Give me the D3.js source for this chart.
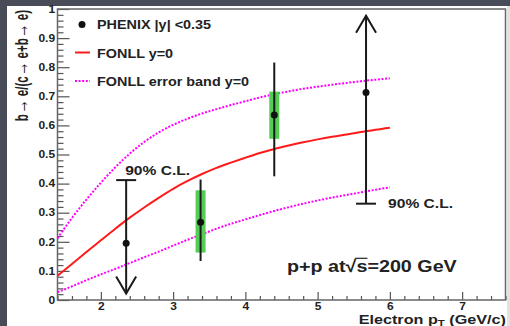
<!DOCTYPE html>
<html>
<head>
<meta charset="utf-8">
<script src="https://cdn.jsdelivr.net/npm/d3@7"></script>
<style>
body { margin: 0; background: #484c58; }
svg { display: block; }
text { font-family: "Liberation Sans", Arial, sans-serif; font-weight: bold; fill: #222; }
</style>
</head>
<body>
<div class="canvas"></div>
<script>
// FONLL prediction (y=0)
const curvePt = [1.4, 1.6, 1.8, 2.0, 2.2, 2.4, 2.6, 2.8, 3.0, 3.2, 3.4, 3.6, 3.8, 4.0, 4.2, 4.4, 4.6, 4.8, 5.0, 5.2, 5.4, 5.6, 5.8, 6.0];
const fonllCentral = [0.083, 0.124, 0.165, 0.205, 0.245, 0.283, 0.318, 0.351, 0.382, 0.409, 0.433, 0.454, 0.472, 0.489, 0.505, 0.519, 0.531, 0.542, 0.552, 0.561, 0.569, 0.577, 0.585, 0.592];
const fonllUpper = [0.212, 0.282, 0.345, 0.403, 0.456, 0.503, 0.543, 0.576, 0.602, 0.623, 0.641, 0.656, 0.670, 0.683, 0.696, 0.707, 0.717, 0.726, 0.733, 0.740, 0.746, 0.752, 0.757, 0.762];
const fonllLower = [0.027, 0.047, 0.068, 0.088, 0.107, 0.127, 0.147, 0.166, 0.187, 0.207, 0.226, 0.245, 0.262, 0.277, 0.292, 0.306, 0.319, 0.331, 0.342, 0.352, 0.361, 0.370, 0.379, 0.387];

// PHENIX data points
const pointPt = [2.35, 3.38, 4.40, 5.67];
const pointVal = [0.195, 0.267, 0.636, 0.713];
const statLow = [null, 0.134, 0.425, null];
const statHigh = [null, 0.414, 0.816, null];
const sysLow = [null, 0.163, 0.554, null];
const sysHigh = [null, 0.377, 0.716, null];

// 90% C.L. limits
const limitPt = [2.35, 5.67];
const limitVal = [0.412, 0.331];
const limitArrowEnd = [0.022, 0.977];

// ticks
const xTicks = [2, 3, 4, 5, 6, 7];
const xTickLabels = ['2', '3', '4', '5', '6', '7'];
const yTicks = [0, 0.1, 0.2, 0.3, 0.4, 0.5, 0.6, 0.7, 0.8, 0.9, 1];
const yTickLabels = ['0', '0.1', '0.2', '0.3', '0.4', '0.5', '0.6', '0.7', '0.8', '0.9', '1'];

const legendLabels = ['PHENIX |y| <0.35', 'FONLL y=0', 'FONLL error band y=0'];

const width = 510, height = 326;
const svg = d3.select('.canvas').append('svg')
	.attr('width', width)
	.attr('height', height);

// page background & white pad
svg.append('rect').attr('width', width).attr('height', height).attr('fill', '#484c58');
svg.append('rect').attr('x', 7).attr('y', 6).attr('width', 503).attr('height', 320).attr('fill', '#fff');
svg.append('rect').attr('x', 507).attr('y', 6).attr('width', 3).attr('height', 320).attr('fill', '#e2e2e2');

const x = d3.scaleLinear().domain([1.4, 7.6]).range([57.5, 505.5]);
const y = d3.scaleLinear().domain([0, 1]).range([300, 9]);

// axes (ROOT style: ticks point inward)
const xMinor = d3.range(1.4, 7.61, 0.2).filter(v => Math.abs(v - Math.round(v)) > 0.01);
const yMinor = d3.range(0, 1.001, 0.02).filter(v => Math.abs(v * 10 - Math.round(v * 10)) > 0.01);

const axisStyle = g => {
	g.select('.domain').remove();
	g.selectAll('line').attr('stroke', '#555').attr('stroke-width', 1.2);
};

svg.append('g')
	.attr('transform', `translate(0, ${y(0)})`)
	.call(d3.axisBottom(x).tickValues(xMinor).tickSize(-4).tickFormat(''))
	.call(axisStyle);
svg.append('g')
	.attr('transform', `translate(0, ${y(0)})`)
	.call(d3.axisBottom(x).tickValues(xTicks).tickSize(-8).tickPadding(3)
		.tickFormat((d, i) => xTickLabels[i]))
	.call(axisStyle)
	.selectAll('text')
	.attr('font-size', 10)
	.attr('fill', '#333')
	.attr('transform', 'scale(1.2,1)');

svg.append('g')
	.attr('transform', `translate(${x(1.4)}, 0)`)
	.call(d3.axisLeft(y).tickValues(yMinor).tickSize(-6).tickFormat(''))
	.call(axisStyle);
svg.append('g')
	.attr('transform', `translate(${x(1.4)}, 0)`)
	.call(d3.axisLeft(y).tickValues(yTicks).tickSize(-12).tickPadding(2)
		.tickFormat((d, i) => yTickLabels[i]))
	.call(axisStyle)
	.selectAll('text')
	.attr('font-size', 10)
	.attr('fill', '#333')
	.attr('transform', 'scale(1.2,1)');

// frame
svg.append('rect')
	.attr('x', x(1.4)).attr('y', y(1))
	.attr('width', x(7.6) - x(1.4)).attr('height', y(0) - y(1))
	.attr('fill', 'none').attr('stroke', '#666').attr('stroke-width', 1.5);

// FONLL curves
const line = vals => d3.line()
	.x((d, i) => x(curvePt[i]))
	.y(d => y(d))
	.curve(d3.curveMonotoneX)(vals);

svg.append('path').attr('d', line(fonllUpper))
	.attr('fill', 'none').attr('stroke', '#ff00ff').attr('stroke-width', 2).attr('stroke-dasharray', '2,1.6');
svg.append('path').attr('d', line(fonllLower))
	.attr('fill', 'none').attr('stroke', '#ff00ff').attr('stroke-width', 2).attr('stroke-dasharray', '2,1.6');
svg.append('path').attr('d', line(fonllCentral))
	.attr('fill', 'none').attr('stroke', '#ff1a1a').attr('stroke-width', 2);

// systematic boxes
pointPt.forEach((pt, i) => {
	if (sysLow[i] === null) return;
	svg.append('rect')
		.attr('x', x(pt) - 5).attr('y', y(sysHigh[i]))
		.attr('width', 10).attr('height', y(sysLow[i]) - y(sysHigh[i]))
		.attr('fill', '#55cc55');
});

// stat error bars
pointPt.forEach((pt, i) => {
	if (statLow[i] === null) return;
	svg.append('line')
		.attr('x1', x(pt)).attr('x2', x(pt))
		.attr('y1', y(statLow[i])).attr('y2', y(statHigh[i]))
		.attr('stroke', '#1a1a1a').attr('stroke-width', 2);
});

// limit arrows
limitPt.forEach((pt, i) => {
	const cx = x(pt);
	const y0 = y(limitVal[i]);
	const y1 = y(limitArrowEnd[i]);
	const dir = y1 > y0 ? -1 : 1;
	const g = svg.append('g').attr('stroke', '#1a1a1a').attr('stroke-width', 2).attr('fill', 'none');
	g.append('line').attr('x1', cx).attr('x2', cx).attr('y1', y0).attr('y2', y1);
	g.append('line').attr('x1', cx - 10).attr('x2', cx + 10).attr('y1', y0).attr('y2', y0);
	g.append('path').attr('d', `M${cx - 10},${y1 + dir * 17}L${cx},${y1}L${cx + 10},${y1 + dir * 17}`);
});

// points
svg.selectAll('circle.pt')
	.data(pointPt)
	.enter()
	.append('circle')
	.attr('class', 'pt')
	.attr('cx', d => x(d))
	.attr('cy', (d, i) => y(pointVal[i]))
	.attr('r', 3.5)
	.attr('fill', '#111');

// text helper (the picture is stretched horizontally)
const label = (px, py, str, size, anchor = 'start', sx = 1.2) => svg.append('text')
	.attr('transform', `translate(${px}, ${py}) scale(${sx}, 1)`)
	.attr('font-size', size)
	.attr('text-anchor', anchor)
	.text(str);

label(x(limitPt[0]) - 1, y(limitVal[0]) - 5, '90% C.L.', 13);
label(x(limitPt[1]) + 22, y(limitVal[1]) + 4, '90% C.L.', 13);

// legend
svg.append('circle').attr('cx', 82).attr('cy', 24.5).attr('r', 3.5).attr('fill', '#111');
svg.append('line').attr('x1', 75).attr('x2', 90).attr('y1', 52.5).attr('y2', 52.5)
	.attr('stroke', '#ff1a1a').attr('stroke-width', 2);
svg.append('line').attr('x1', 75).attr('x2', 90).attr('y1', 81).attr('y2', 81)
	.attr('stroke', '#ff00ff').attr('stroke-width', 2).attr('stroke-dasharray', '2,1.6');
legendLabels.forEach((t, i) => label(97, 29 + i * 28.7, t, 12));

// p+p at sqrt(s)=200 GeV
const pp = svg.append('g').attr('transform', 'translate(287, 272) scale(1.16, 1)');
const ppText = pp.append('text').attr('font-size', 17);
ppText.append('tspan').text('p+p at');
ppText.append('tspan').text('\u221A');
ppText.append('tspan').text('s');
ppText.append('tspan').text('=200 GeV');
const sBox = ppText.node().getExtentOfChar(7);
const rBox = ppText.node().getExtentOfChar(6);
pp.append('line')
	.attr('x1', rBox.x + rBox.width - 1).attr('x2', sBox.x + sBox.width)
	.attr('y1', rBox.y + 2).attr('y2', rBox.y + 2)
	.attr('stroke', '#222').attr('stroke-width', 1.2);

// axis titles
const xt = label(506, 324, 'Electron p', 13.5, 'end');
xt.append('tspan').attr('font-size', 9.5).attr('dy', 2).text('T');
xt.append('tspan').attr('dy', -2).text(' (GeV/c)');

const yt = svg.append('text')
	.attr('transform', 'translate(28, 10) scale(1.3, 0.86) rotate(-90)')
	.attr('font-size', 13.5)
	.attr('text-anchor', 'end');
yt.append('tspan').text('b');
yt.append('tspan').attr('font-size', 17).text('\u2192');
yt.append('tspan').text(' e/(c');
yt.append('tspan').attr('font-size', 17).text('\u2192');
yt.append('tspan').text(' e+b');
yt.append('tspan').attr('font-size', 17).text('\u2192');
yt.append('tspan').text(' e)');
</script>
</body>
</html>
